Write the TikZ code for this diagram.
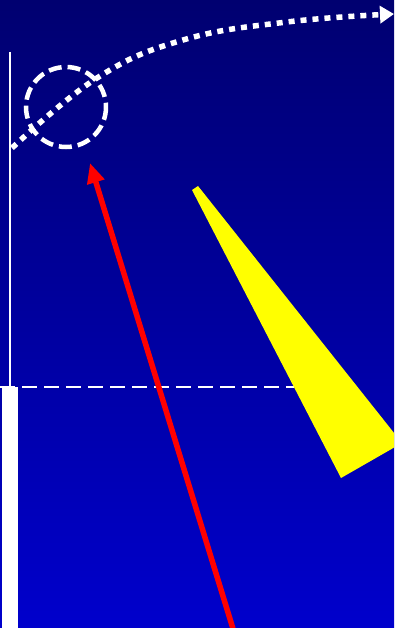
\documentclass[tikz,border=0pt]{standalone}
\usetikzlibrary{arrows.meta}
\definecolor{skytop}{RGB}{0,0,112}
\definecolor{skybot}{RGB}{0,0,204}

\begin{document}
\begin{tikzpicture}[x=1pt,y=-1pt,>=Triangle,
  wall/.style={white,line width=2pt},
  level/.style={white,line width=2pt,dash pattern=on 15pt off 7pt},
  ring/.style={white,line width=4.5pt,dash pattern=on 13pt off 6pt},
  trail/.style={white,line width=5.5pt,dash pattern=on 6pt off 6pt,-{Triangle[length=14pt,width=17pt]}},
  ray/.style={red,line width=5.5pt,-{Triangle[length=20pt,width=17pt]}},
  beam/.style={fill={rgb,255:red,255;green,255;blue,0}}]
\useasboundingbox (0,0) rectangle (394,628);
\shade[top color=skytop,bottom color=skybot] (0,0) rectangle (394,628);
% ground, wall and water line
\fill[white] (2,387) rectangle (18,628);
\draw[wall] (10,52) -- (10,387);
\draw[level] (0,387) -- (294,387);
% dashed ring
\coordinate (c) at (66,107);
\draw[ring] (c) circle[radius=40];
% dotted trajectory
\draw[trail] plot[smooth,tension=0.7] coordinates
  {(12,148) (97,78) (183,40) (287,22) (394,14)};
% red ray
\coordinate (r0) at (234,632);
\coordinate (r1) at (90,163);
\draw[ray] (r0) -- (r1);
% yellow beam
\begin{scope}
\clip (0,0) rectangle (394,628);
\fill[beam] (192,190) -- (198,186) -- (402,443) -- (341,478) -- cycle;
\end{scope}
\end{tikzpicture}
\end{document}
